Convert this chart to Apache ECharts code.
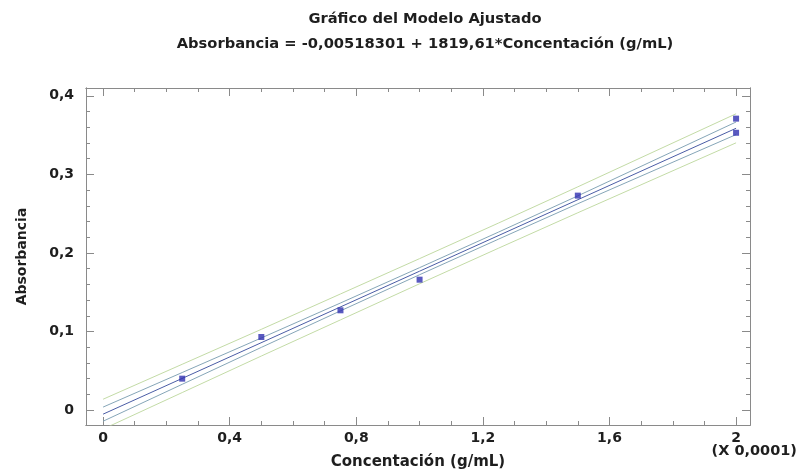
<!DOCTYPE html>
<html>
<head>
<meta charset="utf-8">
<script src="https://cdn.jsdelivr.net/npm/echarts@6/dist/echarts.min.js"></script>
<style>
  html, body { margin: 0; padding: 0; background: #fff; }
  #chart { width: 799px; height: 471px; }
</style>
</head>
<body>
<div id="chart"></div>
<script>
// concentration in units of 0.0001 g/mL
const obsX = [0.25, 0.5, 0.75, 1.0, 1.5, 2.0, 2.0]
const obsY = [0.040, 0.093, 0.127, 0.166, 0.273, 0.371, 0.353]

// fitted line: Absorbancia = -0,00518301 + 1819,61*Conc
const fitX = [0, 2]
const fitY = [-0.00518, 0.35874]

// band positions
const bandX = [0, 0.25, 0.5, 0.75, 1.0, 1.25, 1.5, 1.75, 2.0]
const confUpper = [0.0038, 0.0478, 0.0918, 0.1363, 0.1813, 0.2267, 0.2727, 0.3197, 0.3667]
const confLower = [-0.0142, 0.0328, 0.0798, 0.1263, 0.1723, 0.2177, 0.2627, 0.3067, 0.3507]
const predUpper = [0.0138, 0.0583, 0.1028, 0.1478, 0.1928, 0.2382, 0.2842, 0.3307, 0.3772]
const predLower = [-0.0242, 0.0223, 0.0688, 0.1148, 0.1608, 0.2062, 0.2512, 0.2957, 0.3402]

const xMajor = [0, 0.4, 0.8, 1.2, 1.6, 2.0]
const xMinor = [0.1, 0.2, 0.3, 0.5, 0.6, 0.7, 0.9, 1.0, 1.1, 1.3, 1.4, 1.5, 1.7, 1.8, 1.9]
const yMajor = [0, 0.1, 0.2, 0.3, 0.4]
const yMinor = [0.02, 0.04, 0.06, 0.08, 0.12, 0.14, 0.16, 0.18, 0.22, 0.24, 0.26, 0.28, 0.32, 0.34, 0.36, 0.38]

const X_MIN = -0.054, X_MAX = 2.044
const Y_MIN = -0.019, Y_MAX = 0.41

const font = '"DejaVu Sans", Verdana, sans-serif'
const ink = '#1e1e1e'
const frame = '#8a8a8a'
const comma = (v) => String(Math.round(v * 10) / 10).replace('.', ',')
const pair = (xs, ys) => xs.map((x, i) => [x, ys[i]])

const makeAxis = (type, pos, ticks, len, labels, extra) => Object.assign({
  type: 'value',
  position: pos,
  min: type === 'x' ? X_MIN : Y_MIN,
  max: type === 'x' ? X_MAX : Y_MAX,
  splitLine: { show: false },
  axisLine: { show: true, onZero: false, lineStyle: { color: frame, width: 1 } },
  axisTick: { show: true, inside: true, length: len, customValues: ticks, lineStyle: { color: frame } },
  axisLabel: labels ? {
    show: true,
    customValues: ticks,
    formatter: comma,
    fontFamily: font,
    fontWeight: 'bold',
    fontSize: 14,
    color: ink,
    margin: type === 'x' ? 6 : 12
  } : { show: false }
}, extra || {})

const chart = echarts.init(document.getElementById('chart'))

const line = (data, color, width) => ({
  type: 'line',
  data: data,
  showSymbol: false,
  symbol: 'none',
  clip: true,
  silent: true,
  lineStyle: { color: color, width: width || 1 },
  z: 2
})

chart.setOption({
  animation: false,
  backgroundColor: '#fff',
  title: {
    text: 'Gráfico del Modelo Ajustado\nAbsorbancia = -0,00518301 + 1819,61*Concentación (g/mL)',
    left: 420,
    top: 2,
    textAlign: 'center',
    textStyle: { fontFamily: font, fontWeight: 'bold', fontSize: 14.7, color: ink, lineHeight: 25 }
  },
  grid: { left: 86, right: 49, top: 88, bottom: 46, outerBoundsMode: 'none', containLabel: false },
  xAxis: [
    makeAxis('x', 'bottom', xMajor, 8, true, {
      name: 'Concentación (g/mL)',
      nameLocation: 'middle',
      nameGap: 30,
      nameTextStyle: { fontFamily: font, fontWeight: 'bold', fontSize: 15, color: ink }
    }),
    makeAxis('x', 'bottom', xMinor, 4, false),
    makeAxis('x', 'top', xMajor, 8, false),
    makeAxis('x', 'top', xMinor, 4, false)
  ],
  yAxis: [
    makeAxis('y', 'left', yMajor, 8, true, {
      name: 'Absorbancia',
      nameLocation: 'middle',
      nameGap: 57,
      nameRotate: 90,
      nameTextStyle: { fontFamily: font, fontWeight: 'bold', fontSize: 14, color: ink }
    }),
    makeAxis('y', 'left', yMinor, 4, false),
    makeAxis('y', 'right', yMajor, 8, false),
    makeAxis('y', 'right', yMinor, 4, false)
  ],
  graphic: [{
    type: 'text',
    right: 2,
    top: 444,
    style: { text: '(X 0,0001)', font: 'bold 14.5px ' + font, fill: ink }
  }],
  series: [
    line(pair(bandX, predUpper), '#c3dba6'),
    line(pair(bandX, predLower), '#c3dba6'),
    line(pair(bandX, confUpper), '#86a6b8'),
    line(pair(bandX, confLower), '#86a6b8'),
    line(pair(fitX, fitY), '#4b5da6'),
    {
      type: 'scatter',
      data: pair(obsX, obsY),
      symbol: 'rect',
      symbolSize: 6,
      itemStyle: { color: '#2f2fb0' },
      z: 5
    }
  ]
})
</script>
</body>
</html>
